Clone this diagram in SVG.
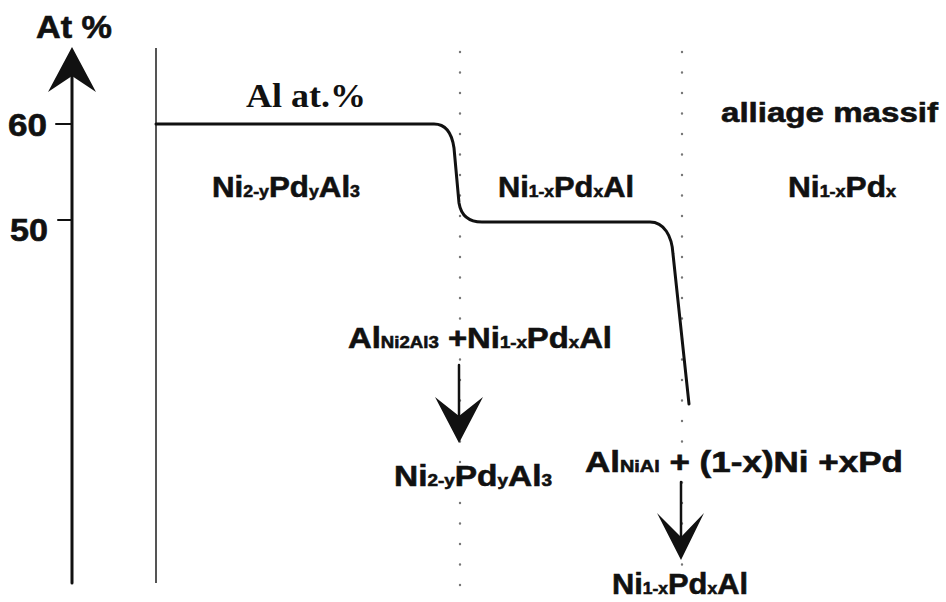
<svg xmlns="http://www.w3.org/2000/svg" width="946" height="602" viewBox="0 0 946 602">
<style>
  .lbl { font-family: "Liberation Sans", Arial, sans-serif; font-weight: bold; fill: #111; stroke: #111; stroke-width: 0.6; }
  .big { font-size: 30px; }
  .sub { font-size: 17px; }
  .serif { font-family: "Liberation Serif", "Times New Roman", serif; font-weight: bold; fill: #111; font-size: 33px; }
  .line { fill: none; stroke: #111; stroke-linecap: round; stroke-linejoin: round; }
  .dots { fill: none; stroke: #777; stroke-width: 2.4; stroke-linecap: round; stroke-dasharray: 0 20.5; }
  .head { fill: #111; }
</style>
<rect width="946" height="602" fill="#fff"/>

<g id="axis">
  <line class="line" x1="72" y1="70" x2="72" y2="583" stroke-width="3"/>
  <path class="head" d="M72,47 L96,92 L72,76 L48,92 Z"/>
  <line class="line" x1="56" y1="124" x2="72" y2="124" stroke-width="2"/>
  <line class="line" x1="58" y1="220" x2="72" y2="220" stroke-width="2"/>
  <text class="lbl" x="36" y="38" font-size="31" textLength="76" lengthAdjust="spacingAndGlyphs">At %</text>
  <text class="lbl" x="8" y="136" font-size="31" textLength="39" lengthAdjust="spacingAndGlyphs">60</text>
  <text class="lbl" x="10" y="241" font-size="31" textLength="38" lengthAdjust="spacingAndGlyphs">50</text>
</g>

<g id="interface-line">
  <line x1="156" y1="48" x2="156" y2="583" stroke="#555" stroke-width="2"/>
</g>

<g id="phase-boundaries">
  <line class="dots" x1="460" y1="52" x2="460" y2="600"/>
  <line class="dots" x1="682" y1="52" x2="682" y2="600"/>
</g>

<g id="profile">
  <path class="line" stroke-width="3" d="M156,124 L434,124 C446,124 452,134 454,148 L459,203 C461,215 468,222 482,222 L650,222 C664,222 672,236 673,254 L689,404"/>
  <text class="serif" x="246" y="107" textLength="120" lengthAdjust="spacingAndGlyphs">Al at.%</text>
</g>

<g id="zone-ni2al3">
  <text class="lbl big" x="212" y="197" textLength="148" lengthAdjust="spacingAndGlyphs">Ni<tspan class="sub">2-y</tspan>Pd<tspan class="sub">y</tspan>Al<tspan class="sub">3</tspan></text>
</g>

<g id="zone-nial">
  <text class="lbl big" x="498" y="197" textLength="136" lengthAdjust="spacingAndGlyphs">Ni<tspan class="sub">1-x</tspan>Pd<tspan class="sub">x</tspan>Al</text>
</g>

<g id="zone-alloy">
  <text class="lbl" x="721" y="122" font-size="28" textLength="217" lengthAdjust="spacingAndGlyphs">alliage massif</text>
  <text class="lbl big" x="788" y="197" textLength="108" lengthAdjust="spacingAndGlyphs">Ni<tspan class="sub">1-x</tspan>Pd<tspan class="sub">x</tspan></text>
</g>

<g id="reaction-1">
  <text class="lbl big" x="348" y="348" textLength="264" lengthAdjust="spacingAndGlyphs">Al<tspan class="sub">Ni2Al3</tspan> +Ni<tspan class="sub">1-x</tspan>Pd<tspan class="sub">x</tspan>Al</text>
  <text class="lbl big" x="394" y="486" textLength="158" lengthAdjust="spacingAndGlyphs">Ni<tspan class="sub">2-y</tspan>Pd<tspan class="sub">y</tspan>Al<tspan class="sub">3</tspan></text>
</g>

<g id="reaction-2">
  <text class="lbl big" x="585" y="472" textLength="318" lengthAdjust="spacingAndGlyphs">Al<tspan class="sub">NiAl</tspan> + (1-x)Ni +xPd</text>
  <text class="lbl big" x="612" y="594" textLength="136" lengthAdjust="spacingAndGlyphs">Ni<tspan class="sub">1-x</tspan>Pd<tspan class="sub">x</tspan>Al</text>
</g>

<g id="connectors">
  <line class="line" x1="459" y1="365" x2="459" y2="420" stroke-width="2.5"/>
  <path class="head" d="M459,443 L483,397 L459,416 L435,397 Z"/>
  <line class="line" x1="681" y1="482" x2="681" y2="540" stroke-width="2.5"/>
  <path class="head" d="M681,560 L704,513 L681,537 L657,513 Z"/>
</g>
</svg>
